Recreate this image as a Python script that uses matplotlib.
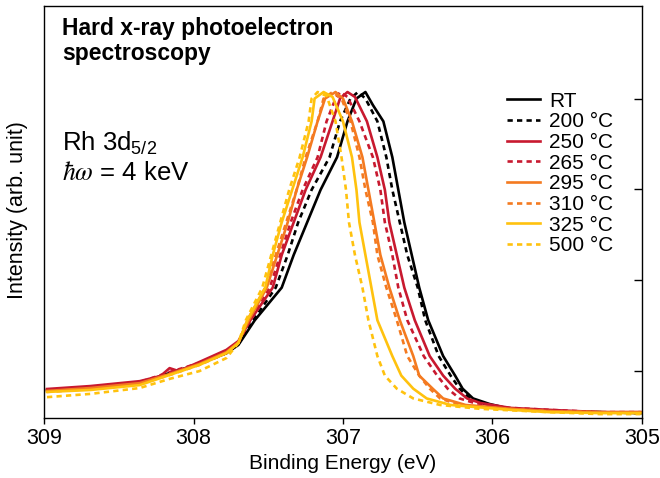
import numpy as np
import matplotlib
matplotlib.use("Agg")
import matplotlib.pyplot as plt

plt.rcParams['font.family'] = ['Liberation Sans', 'DejaVu Sans']

# Rh 3d5/2 spectra, binding energy (eV) and normalised intensity (arb. unit)
labels = ["RT", "200 °C", "250 °C", "265 °C", "295 °C", "310 °C", "325 °C", "500 °C"]

e_rt = [308.98, 308.69, 308.36, 308.16, 307.96, 307.78, 307.70, 307.59, 307.41, 307.33, 307.24,
        307.15, 307.04, 306.97, 306.91, 306.85, 306.80, 306.73, 306.67, 306.63, 306.59, 306.54,
        306.49, 306.43, 306.33, 306.25, 306.20, 306.13, 306.02, 305.88, 305.62, 305.28, 305.01]
i_rt = [0.086, 0.095, 0.107, 0.138, 0.166, 0.199, 0.224, 0.30, 0.40, 0.50, 0.60,
        0.70, 0.80, 0.91, 0.98, 1.00, 0.96, 0.91, 0.80, 0.70, 0.60, 0.50,
        0.40, 0.30, 0.19, 0.13, 0.09, 0.06, 0.043, 0.028, 0.021, 0.018, 0.015]

e_200 = [308.98, 308.69, 308.36, 308.16, 307.96, 307.78, 307.70, 307.60, 307.45, 307.37, 307.30,
         307.21, 307.09, 307.02, 306.95, 306.90, 306.85, 306.77, 306.71, 306.67, 306.62, 306.57,
         306.50, 306.45, 306.36, 306.28, 306.22, 306.15, 306.05, 305.88, 305.62, 305.28, 305.01]
i_200 = [0.083, 0.092, 0.107, 0.135, 0.166, 0.199, 0.227, 0.30, 0.40, 0.50, 0.60,
         0.70, 0.80, 0.91, 0.98, 1.00, 0.98, 0.91, 0.80, 0.70, 0.60, 0.50,
         0.40, 0.30, 0.19, 0.13, 0.09, 0.06, 0.043, 0.028, 0.021, 0.018, 0.015]

e_250 = [308.98, 308.69, 308.36, 308.22, 308.16, 308.10, 307.96, 307.78, 307.70, 307.62, 307.47,
         307.41, 307.33, 307.25, 307.15, 307.07, 307.02, 306.97, 306.92, 306.84, 306.77, 306.72,
         306.69, 306.64, 306.59, 306.52, 306.42, 306.33, 306.25, 306.17, 306.08, 305.88, 305.62,
         305.28, 305.01]
i_250 = [0.089, 0.098, 0.113, 0.129, 0.153, 0.144, 0.172, 0.209, 0.236, 0.30, 0.40,
         0.50, 0.60, 0.70, 0.80, 0.91, 0.98, 1.00, 0.985, 0.91, 0.80, 0.70,
         0.60, 0.50, 0.40, 0.30, 0.19, 0.13, 0.09, 0.06, 0.046, 0.031, 0.025,
         0.018, 0.018]

e_265 = [308.98, 308.69, 308.36, 308.16, 307.96, 307.78, 307.70, 307.62, 307.49, 307.42, 307.35,
         307.27, 307.17, 307.11, 307.05, 307.02, 306.97, 306.89, 306.80, 306.75, 306.72, 306.67,
         306.63, 306.57, 306.46, 306.37, 306.30, 306.22, 306.12, 305.88, 305.62, 305.28, 305.01]
i_265 = [0.086, 0.095, 0.110, 0.141, 0.169, 0.206, 0.232, 0.30, 0.40, 0.50, 0.60,
         0.70, 0.80, 0.91, 0.98, 1.00, 0.985, 0.91, 0.80, 0.70, 0.60, 0.50,
         0.40, 0.30, 0.19, 0.13, 0.09, 0.06, 0.046, 0.031, 0.025, 0.018, 0.018]

e_295 = [308.98, 308.69, 308.36, 308.16, 307.96, 307.78, 307.70, 307.63, 307.51, 307.44, 307.37,
         307.31, 307.24, 307.17, 307.12, 307.05, 307.00, 306.94, 306.87, 306.83, 306.79, 306.75,
         306.69, 306.62, 306.53, 306.49, 306.40, 306.33, 306.18, 305.88, 305.62, 305.28, 305.01]
i_295 = [0.083, 0.092, 0.107, 0.135, 0.166, 0.202, 0.232, 0.30, 0.40, 0.50, 0.60,
         0.70, 0.80, 0.91, 0.98, 1.00, 0.98, 0.91, 0.80, 0.70, 0.60, 0.50,
         0.40, 0.30, 0.19, 0.13, 0.09, 0.06, 0.040, 0.028, 0.021, 0.018, 0.018]

e_310 = [308.98, 308.69, 308.36, 308.16, 307.96, 307.78, 307.70, 307.64, 307.52, 307.45, 307.38,
         307.31, 307.25, 307.17, 307.13, 307.07, 307.01, 306.95, 306.89, 306.85, 306.80, 306.77,
         306.71, 306.64, 306.57, 306.49, 306.42, 306.35, 306.22, 305.88, 305.62, 305.28, 305.01]
i_310 = [0.080, 0.089, 0.104, 0.132, 0.163, 0.199, 0.230, 0.30, 0.40, 0.50, 0.60,
         0.70, 0.80, 0.91, 0.98, 1.00, 0.98, 0.91, 0.80, 0.70, 0.60, 0.50,
         0.40, 0.30, 0.19, 0.13, 0.09, 0.06, 0.040, 0.028, 0.021, 0.018, 0.015]

e_325 = [308.98, 308.69, 308.36, 308.16, 307.96, 307.78, 307.70, 307.64, 307.52, 307.47, 307.41,
         307.34, 307.27, 307.21, 307.19, 307.13, 307.07, 307.00, 306.94, 306.91, 306.89, 306.85,
         306.81, 306.77, 306.67, 306.61, 306.53, 306.44, 306.28, 305.88, 305.62, 305.28, 305.01]
i_325 = [0.080, 0.086, 0.101, 0.132, 0.163, 0.199, 0.230, 0.30, 0.40, 0.50, 0.60,
         0.70, 0.80, 0.91, 0.98, 1.00, 0.985, 0.91, 0.80, 0.70, 0.60, 0.50,
         0.40, 0.30, 0.19, 0.13, 0.09, 0.06, 0.040, 0.025, 0.018, 0.015, 0.015]

e_500 = [308.98, 308.69, 308.36, 308.16, 307.96, 307.78, 307.70, 307.65, 307.54, 307.48, 307.42,
         307.36, 307.29, 307.23, 307.21, 307.17, 307.11, 307.05, 307.01, 306.98, 306.96, 306.92,
         306.87, 306.83, 306.77, 306.72, 306.64, 306.53, 306.35, 306.08, 305.62, 305.28, 305.01]
i_500 = [0.064, 0.074, 0.092, 0.120, 0.144, 0.184, 0.230, 0.30, 0.40, 0.50, 0.60,
         0.70, 0.80, 0.91, 0.98, 1.00, 0.988, 0.91, 0.80, 0.70, 0.60, 0.50,
         0.40, 0.30, 0.19, 0.13, 0.09, 0.06, 0.040, 0.028, 0.018, 0.012, 0.012]

energies = [e_rt, e_200, e_250, e_265, e_295, e_310, e_325, e_500]
intensities = [i_rt, i_200, i_250, i_265, i_295, i_310, i_325, i_500]

black = "#000000"
red = "#c8192f"
orange = "#f47a20"
yellow = "#ffc20e"
colors = [black, black, red, red, orange, orange, yellow, yellow]
dash = (0, (2.0, 1.6))
styles = ["-", dash, "-", dash, "-", dash, "-", dash]

right_ticks = [0.144, 0.423, 0.702, 0.979]

#Create the figure
fig = plt.figure(figsize=(6.6, 4.78), dpi=100)
ax = fig.add_axes([0.0667, 0.1255, 0.906, 0.862])

#Plot the spectra
for e, i, c, ls, lab in zip(energies, intensities, colors, styles, labels):
    ax.plot(e, i, color=c, linestyle=ls, linewidth=1.9, label=lab)

ax.set_xlim(309, 305)
ax.set_ylim(0, 1.264)
ax.set_xticks([309, 308, 307, 306, 305])
ax.tick_params(axis='x', direction='out', length=4, width=1, labelsize=15.5, pad=3)
ax.yaxis.tick_right()
ax.set_yticks(right_ticks)
ax.tick_params(axis='y', direction='in', length=6, width=1, labelright=False)
for s in ax.spines.values():
    s.set_linewidth(1.0)

ax.set_xlabel("Binding Energy (eV)", fontsize=15, labelpad=4)
ax.set_ylabel("Intensity (arb. unit)", fontsize=15.5)
ax.yaxis.set_label_position('left')
ax.yaxis.set_label_coords(-0.026, 0.505)

#Annotations
ax.text(0.03, 0.930, "Hard x-ray photoelectron", transform=ax.transAxes,
        fontsize=16.5, fontweight='bold', va='baseline', ha='left')
ax.text(0.03, 0.869, "spectroscopy", transform=ax.transAxes,
        fontsize=16.5, fontweight='bold', va='baseline', ha='left')
ax.text(0.03, 0.650, r"Rh 3d$_{\mathregular{5/2}}$", transform=ax.transAxes,
        fontsize=18.5, va='baseline', ha='left')
ax.text(0.03, 0.578, r"$\hbar\omega$ = 4 keV", transform=ax.transAxes,
        fontsize=18.5, va='baseline', ha='left', math_fontfamily='stix')

ax.legend(loc='upper left', bbox_to_anchor=(0.775, 0.792), frameon=False, fontsize=15,
          handlelength=1.55, handletextpad=0.45, labelspacing=0.08, borderaxespad=0,
          borderpad=0)

fig.savefig("out.png", dpi=100)
